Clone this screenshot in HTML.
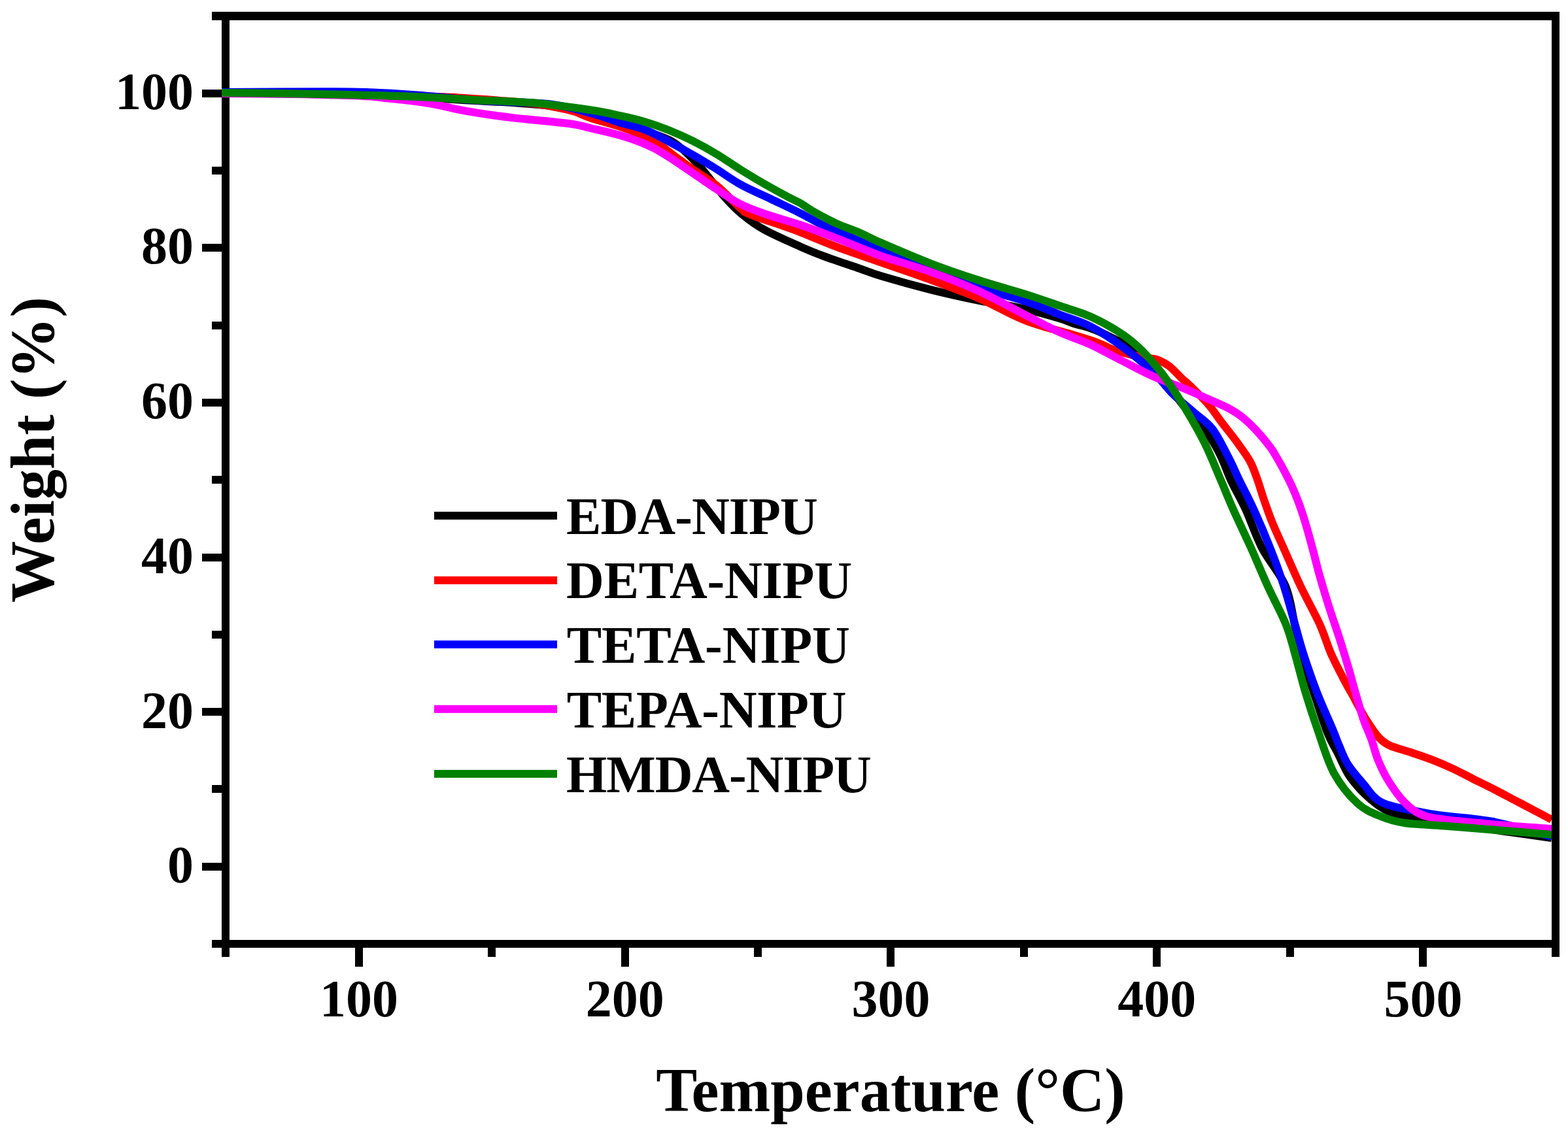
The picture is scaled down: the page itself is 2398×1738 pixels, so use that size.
<!DOCTYPE html>
<html><head><meta charset="utf-8"><title>TGA</title>
<style>html,body{margin:0;padding:0;background:#fff;}svg{display:block;}</style>
</head><body>
<svg width="2398" height="1738" viewBox="0 0 2398 1738">
<rect width="2398" height="1738" fill="#fff"/>
<g fill="#000">
<rect x="339.0" y="1450.0" width="12.0" height="14.0"/>
<rect x="543.0" y="1450.0" width="12.0" height="29.0"/>
<rect x="746.0" y="1450.0" width="12.0" height="14.0"/>
<rect x="950.0" y="1450.0" width="12.0" height="29.0"/>
<rect x="1153.0" y="1450.0" width="12.0" height="14.0"/>
<rect x="1356.0" y="1450.0" width="12.0" height="29.0"/>
<rect x="1560.0" y="1450.0" width="12.0" height="14.0"/>
<rect x="1763.0" y="1450.0" width="12.0" height="29.0"/>
<rect x="1967.0" y="1450.0" width="12.0" height="14.0"/>
<rect x="2170.0" y="1450.0" width="12.0" height="29.0"/>
<rect x="2373.0" y="1450.0" width="12.0" height="14.0"/>
<rect x="324.0" y="1438.0" width="15.0" height="12.0"/>
<rect x="309.0" y="1320.0" width="30.0" height="12.0"/>
<rect x="324.0" y="1201.0" width="15.0" height="12.0"/>
<rect x="309.0" y="1083.0" width="30.0" height="12.0"/>
<rect x="324.0" y="965.0" width="15.0" height="12.0"/>
<rect x="309.0" y="847.0" width="30.0" height="12.0"/>
<rect x="324.0" y="728.0" width="15.0" height="12.0"/>
<rect x="309.0" y="610.0" width="30.0" height="12.0"/>
<rect x="324.0" y="492.0" width="15.0" height="12.0"/>
<rect x="309.0" y="373.0" width="30.0" height="12.0"/>
<rect x="324.0" y="255.0" width="15.0" height="12.0"/>
<rect x="309.0" y="137.0" width="30.0" height="12.0"/>
<rect x="324.0" y="18.0" width="15.0" height="13.0"/>
</g>
<defs><clipPath id="pa"><rect x="339" y="18" width="2034" height="1432"/></clipPath></defs>
<g clip-path="url(#pa)" fill="none" stroke-width="12" stroke-linejoin="round" stroke-linecap="butt">
<path d="M339.0,142.0 C365.8,142.2 456.5,142.8 500.0,143.5 C543.5,144.2 566.7,144.5 600.0,146.0 C633.3,147.5 667.8,150.6 700.0,152.5 C732.2,154.4 768.0,155.9 793.0,157.7 C818.0,159.4 832.2,160.6 850.0,163.0 C867.8,165.4 883.3,168.2 900.0,172.0 C916.7,175.8 935.0,181.2 950.0,186.0 C965.0,190.8 977.8,196.3 990.0,201.0 C1002.2,205.7 1014.5,209.8 1023.0,214.0 C1031.5,218.2 1036.7,222.8 1041.0,226.0 C1045.3,229.2 1044.8,229.0 1049.0,233.0 C1053.2,237.0 1060.5,244.0 1066.0,250.0 C1071.5,256.0 1074.9,260.3 1082.0,269.0 C1089.1,277.7 1099.9,292.2 1108.7,302.0 C1117.5,311.8 1125.0,319.7 1135.0,328.0 C1145.0,336.3 1154.2,343.4 1169.0,351.6 C1183.8,359.8 1208.5,370.5 1223.7,377.2 C1238.9,383.9 1244.8,386.4 1260.0,392.0 C1275.2,397.6 1300.0,405.8 1315.0,411.0 C1330.0,416.2 1332.0,417.6 1350.0,423.0 C1368.0,428.4 1398.7,437.0 1423.0,443.1 C1447.3,449.2 1478.6,456.0 1496.0,459.6 C1513.4,463.2 1515.4,462.3 1527.6,464.6 C1539.8,466.9 1553.6,469.5 1569.0,473.2 C1584.4,476.9 1607.8,483.4 1620.0,487.0 C1632.2,490.6 1634.1,492.5 1642.0,495.0 C1649.9,497.5 1658.0,498.5 1667.5,502.0 C1677.0,505.5 1688.5,510.7 1699.0,516.0 C1709.5,521.3 1720.3,525.7 1730.8,534.0 C1741.3,542.3 1751.5,555.0 1762.0,566.0 C1772.5,577.0 1785.8,590.7 1794.0,600.0 C1802.2,609.3 1804.7,614.5 1811.0,622.0 C1817.3,629.5 1825.2,636.8 1832.0,645.0 C1838.8,653.2 1846.0,661.8 1852.0,671.0 C1858.0,680.2 1862.9,689.3 1868.0,700.0 C1873.1,710.7 1876.4,721.9 1882.6,735.2 C1888.8,748.5 1897.4,762.8 1905.3,780.0 C1913.2,797.2 1919.9,818.9 1930.0,838.4 C1940.1,857.9 1957.7,877.3 1966.0,896.8 C1974.3,916.3 1976.0,938.0 1980.0,955.2 C1984.0,972.4 1985.2,982.8 1990.0,1000.0 C1994.8,1017.2 2002.3,1038.3 2009.0,1058.4 C2015.7,1078.5 2023.8,1104.9 2030.0,1120.6 C2036.2,1136.3 2040.6,1141.8 2045.9,1152.4 C2051.2,1163.0 2056.4,1175.4 2061.7,1184.1 C2067.0,1192.8 2072.3,1198.7 2077.6,1204.8 C2082.9,1210.9 2088.2,1215.8 2093.5,1220.6 C2098.8,1225.3 2104.1,1229.7 2109.4,1233.3 C2114.7,1236.9 2119.9,1239.8 2125.2,1242.0 C2130.5,1244.2 2135.7,1245.5 2141.0,1246.8 C2146.3,1248.1 2145.8,1248.1 2157.0,1250.0 C2168.2,1251.9 2184.2,1254.4 2208.0,1258.0 C2231.8,1261.6 2272.5,1267.7 2300.0,1271.7 C2327.5,1275.7 2360.8,1280.3 2373.0,1282.0" stroke="#000000"/>
<path d="M339.0,142.0 C365.8,142.2 446.7,142.1 500.0,143.0 C553.3,143.9 625.5,146.4 659.0,147.5 C692.5,148.6 682.2,148.3 701.0,149.5 C719.8,150.7 751.8,152.8 771.6,154.4 C791.4,156.0 805.3,157.1 820.0,159.0 C834.7,160.9 850.0,164.0 860.0,166.0 C870.0,168.0 872.9,168.6 880.0,171.0 C887.1,173.4 891.0,176.4 902.7,180.3 C914.4,184.2 937.1,190.1 950.0,194.4 C962.9,198.7 970.8,201.9 980.0,206.0 C989.2,210.1 996.3,213.5 1005.0,219.0 C1013.7,224.5 1022.8,232.2 1032.0,239.0 C1041.2,245.8 1049.3,252.0 1060.0,259.5 C1070.7,267.0 1084.0,274.2 1096.0,284.0 C1108.0,293.8 1123.3,310.6 1132.0,318.0 C1140.7,325.4 1134.6,323.0 1148.4,328.6 C1162.2,334.2 1192.5,343.4 1214.6,351.7 C1236.6,360.0 1258.7,369.9 1280.7,378.2 C1302.7,386.5 1324.8,393.6 1346.8,401.3 C1368.8,409.0 1388.1,415.3 1413.0,424.4 C1437.9,433.5 1470.0,444.9 1496.0,455.9 C1522.0,466.9 1544.7,481.2 1569.0,490.6 C1593.3,500.0 1623.8,506.9 1642.0,512.5 C1660.2,518.1 1667.8,520.3 1678.5,524.3 C1689.2,528.2 1694.1,532.4 1706.0,536.2 C1717.9,540.0 1739.8,545.0 1750.0,547.2 C1760.2,549.4 1761.2,547.4 1767.5,549.5 C1773.8,551.6 1780.9,554.8 1787.6,559.8 C1794.3,564.8 1802.4,574.3 1807.6,579.2 C1812.8,584.1 1812.3,582.7 1819.0,589.2 C1825.7,595.7 1839.2,608.7 1847.6,618.4 C1856.0,628.1 1862.1,637.9 1869.5,647.6 C1876.9,657.3 1885.0,667.1 1892.0,676.8 C1899.0,686.5 1906.5,696.3 1911.8,706.0 C1917.0,715.7 1920.0,725.5 1923.5,735.2 C1927.0,744.9 1929.2,753.6 1933.0,764.4 C1936.8,775.2 1941.0,787.7 1946.0,800.0 C1951.0,812.3 1955.8,822.3 1963.0,838.4 C1970.2,854.5 1979.8,877.3 1989.0,896.8 C1998.2,916.3 2010.6,938.0 2018.4,955.2 C2026.2,972.4 2029.1,985.2 2035.6,1000.0 C2042.1,1014.8 2052.2,1033.5 2057.5,1043.8 C2062.8,1054.1 2063.7,1054.6 2067.7,1061.9 C2071.7,1069.2 2077.5,1080.3 2081.6,1087.6 C2085.7,1094.9 2087.8,1099.0 2092.3,1105.7 C2096.8,1112.4 2102.9,1122.2 2108.4,1128.0 C2113.9,1133.8 2117.1,1136.7 2125.2,1140.5 C2133.3,1144.3 2146.4,1147.2 2157.0,1150.8 C2167.6,1154.4 2178.1,1157.8 2188.7,1161.9 C2199.3,1166.0 2209.9,1170.5 2220.5,1175.4 C2231.1,1180.3 2241.6,1186.0 2252.2,1191.3 C2262.8,1196.6 2273.4,1201.7 2284.0,1207.1 C2294.6,1212.5 2305.1,1218.2 2315.7,1223.8 C2326.3,1229.4 2337.9,1235.5 2347.5,1240.5 C2357.1,1245.5 2368.8,1251.8 2373.0,1254.0" stroke="#ff0000"/>
<path d="M339.0,141.0 C365.8,140.9 463.2,140.2 500.0,140.2 C536.8,140.2 537.0,140.1 560.0,141.0 C583.0,141.9 608.7,143.3 638.0,145.5 C667.3,147.7 702.0,151.7 736.0,154.0 C770.0,156.3 814.2,156.3 842.0,159.5 C869.8,162.7 885.0,168.2 903.0,173.0 C921.0,177.8 935.5,183.5 950.0,188.0 C964.5,192.5 974.8,193.6 990.0,200.0 C1005.2,206.4 1024.3,217.4 1041.0,226.6 C1057.7,235.8 1074.8,245.7 1090.0,255.0 C1105.2,264.3 1117.5,274.0 1132.5,282.3 C1147.5,290.6 1164.8,297.7 1180.0,305.0 C1195.2,312.3 1210.4,319.4 1223.7,326.1 C1237.0,332.8 1244.8,338.2 1260.0,345.3 C1275.2,352.4 1300.0,362.7 1315.0,369.0 C1330.0,375.3 1332.0,375.6 1350.0,382.9 C1368.0,390.2 1398.7,403.6 1423.0,413.0 C1447.3,422.4 1471.7,431.4 1496.0,439.5 C1520.3,447.6 1548.3,454.5 1569.0,461.4 C1589.7,468.3 1603.6,474.8 1620.0,481.1 C1636.4,487.4 1651.7,491.2 1667.5,499.3 C1683.3,507.4 1699.2,517.9 1715.0,529.4 C1730.8,540.9 1749.2,555.9 1762.4,568.2 C1775.6,580.5 1783.5,592.6 1794.0,603.0 C1804.5,613.4 1815.7,621.9 1825.7,630.7 C1835.7,639.5 1845.1,644.5 1854.0,656.0 C1862.9,667.5 1871.9,686.5 1879.0,700.0 C1886.1,713.5 1890.0,723.7 1896.5,737.0 C1903.0,750.3 1910.0,763.1 1917.7,780.0 C1925.4,796.9 1934.8,818.9 1942.5,838.4 C1950.2,857.9 1957.3,877.3 1963.6,896.8 C1969.9,916.3 1975.5,938.0 1980.4,955.2 C1985.4,972.4 1987.8,982.8 1993.3,1000.0 C1998.8,1017.2 2006.2,1038.9 2013.7,1058.4 C2021.2,1077.9 2032.8,1103.2 2038.5,1116.8 C2044.2,1130.4 2043.9,1131.3 2047.7,1140.0 C2051.5,1148.7 2055.1,1159.5 2061.2,1169.2 C2067.3,1178.9 2075.9,1188.7 2084.5,1198.4 C2093.1,1208.1 2098.5,1220.3 2113.0,1227.6 C2127.5,1234.9 2155.6,1238.8 2171.4,1242.2 C2187.2,1245.6 2189.4,1245.5 2208.0,1248.0 C2226.6,1250.5 2255.5,1251.7 2283.0,1257.0 C2310.5,1262.3 2358.0,1276.2 2373.0,1280.0" stroke="#0000ff"/>
<path d="M339.0,143.0 C357.5,143.2 413.2,143.3 450.0,144.0 C486.8,144.7 537.0,146.2 560.0,147.2 C583.0,148.2 578.8,149.1 588.2,150.0 C597.6,150.9 607.0,151.8 616.4,152.9 C625.8,154.0 635.3,155.0 644.7,156.4 C654.1,157.8 663.5,159.4 672.9,161.3 C682.3,163.2 691.7,165.8 701.1,167.7 C710.5,169.6 719.9,171.1 729.3,172.6 C738.7,174.1 748.1,175.5 757.5,176.8 C766.9,178.1 776.3,179.3 785.7,180.4 C795.1,181.5 804.6,182.3 814.0,183.2 C823.4,184.1 831.2,184.8 842.2,186.0 C853.2,187.2 869.9,188.9 880.0,190.6 C890.1,192.3 891.0,193.2 902.7,196.0 C914.4,198.8 935.5,203.3 950.0,207.6 C964.5,211.9 977.8,216.6 990.0,222.0 C1002.2,227.4 1005.3,229.0 1023.0,240.3 C1040.7,251.6 1077.8,277.6 1096.0,289.6 C1114.2,301.6 1120.3,306.2 1132.5,312.4 C1144.7,318.6 1153.8,321.7 1169.0,327.0 C1184.2,332.3 1205.1,337.7 1223.7,344.0 C1242.3,350.3 1260.2,357.1 1280.7,365.0 C1301.2,372.9 1323.1,382.9 1346.8,391.4 C1370.5,399.9 1398.1,406.9 1423.0,415.8 C1447.9,424.7 1471.7,433.9 1496.0,445.0 C1520.3,456.1 1548.3,471.9 1569.0,482.4 C1589.7,492.9 1603.6,500.6 1620.0,508.0 C1636.4,515.4 1651.7,519.8 1667.5,527.0 C1683.3,534.2 1699.2,543.5 1715.0,551.5 C1730.8,559.5 1746.6,568.2 1762.4,575.3 C1778.2,582.4 1797.0,588.7 1809.9,594.0 C1822.8,599.3 1832.0,603.5 1840.0,607.0 C1848.0,610.5 1851.5,612.0 1858.0,615.0 C1864.5,618.0 1872.1,620.8 1879.1,624.7 C1886.1,628.6 1893.0,632.6 1900.0,638.3 C1907.0,643.9 1914.3,651.0 1921.4,658.6 C1928.5,666.2 1937.4,677.1 1942.7,684.2 C1948.0,691.3 1949.8,695.2 1953.4,701.3 C1957.0,707.4 1960.6,713.9 1964.2,720.7 C1967.8,727.5 1971.4,734.4 1975.0,742.3 C1978.6,750.2 1982.2,758.5 1985.8,768.2 C1989.4,777.9 1993.0,788.8 1996.6,800.7 C2000.2,812.7 2003.9,826.4 2007.5,839.9 C2011.1,853.4 2014.2,866.6 2018.4,881.6 C2022.7,896.6 2028.1,914.4 2033.0,930.0 C2037.9,945.6 2043.2,960.0 2048.0,975.0 C2052.8,990.0 2057.6,1005.8 2061.8,1020.0 C2066.0,1034.2 2069.1,1046.7 2073.0,1060.0 C2076.9,1073.3 2080.9,1088.0 2085.0,1100.0 C2089.1,1112.0 2093.7,1121.1 2097.5,1131.7 C2101.3,1142.3 2103.4,1152.9 2107.8,1163.5 C2112.2,1174.1 2117.1,1184.6 2123.7,1195.2 C2130.3,1205.8 2139.4,1218.6 2147.5,1227.0 C2155.6,1235.4 2161.9,1241.0 2172.0,1245.5 C2182.1,1250.0 2189.5,1251.1 2208.0,1253.7 C2226.5,1256.3 2255.5,1258.8 2283.0,1261.2 C2310.5,1263.6 2358.0,1266.9 2373.0,1268.0" stroke="#ff00ff"/>
<path d="M339.0,142.0 C349.2,142.1 373.2,142.1 400.0,142.5 C426.8,142.9 475.0,143.7 500.0,144.2 C525.0,144.7 527.0,144.8 550.0,145.4 C573.0,146.0 608.8,146.8 638.2,148.0 C667.6,149.2 697.0,151.3 726.4,152.9 C755.8,154.5 785.2,154.7 814.6,157.3 C844.0,159.9 880.1,165.0 902.7,168.3 C925.3,171.7 936.0,174.4 950.0,177.4 C964.0,180.4 974.3,182.8 986.5,186.5 C998.7,190.2 1010.8,194.4 1023.0,199.3 C1035.2,204.2 1047.3,209.6 1059.5,215.7 C1071.7,221.8 1083.8,228.5 1096.0,235.8 C1108.2,243.1 1120.3,251.9 1132.5,259.5 C1144.7,267.1 1156.8,274.4 1169.0,281.4 C1181.2,288.4 1196.4,296.6 1205.5,301.5 C1214.6,306.4 1217.6,307.1 1223.7,310.6 C1229.8,314.1 1232.9,317.2 1242.0,322.4 C1251.1,327.6 1266.3,336.0 1278.5,341.6 C1290.7,347.2 1303.1,351.0 1315.0,356.2 C1326.9,361.4 1332.0,364.8 1350.0,372.6 C1368.0,380.4 1398.7,393.7 1423.0,403.0 C1447.3,412.3 1471.7,420.6 1496.0,428.5 C1520.3,436.4 1548.3,443.9 1569.0,450.4 C1589.7,456.9 1603.6,462.0 1620.0,467.7 C1636.4,473.4 1651.7,477.2 1667.5,484.3 C1683.3,491.4 1701.8,501.7 1715.0,510.4 C1728.2,519.1 1736.1,526.1 1746.6,536.5 C1757.1,546.9 1767.7,558.9 1778.2,572.9 C1788.8,586.9 1799.3,603.1 1809.9,620.4 C1820.5,637.7 1832.2,657.7 1841.8,676.8 C1851.4,695.9 1859.9,718.0 1867.3,735.2 C1874.7,752.4 1878.6,762.8 1886.3,780.0 C1894.0,797.2 1904.5,818.9 1913.3,838.4 C1922.0,857.9 1929.9,877.3 1938.8,896.8 C1947.7,916.3 1959.7,938.0 1966.6,955.2 C1973.5,972.4 1975.5,982.8 1980.4,1000.0 C1985.3,1017.2 1990.4,1038.9 1996.2,1058.4 C2002.0,1077.9 2007.9,1096.1 2015.2,1116.8 C2022.5,1137.5 2029.8,1163.9 2040.0,1182.7 C2050.2,1201.5 2064.3,1218.3 2076.5,1229.4 C2088.7,1240.5 2101.1,1244.6 2113.0,1249.5 C2124.9,1254.4 2132.2,1256.7 2148.0,1259.0 C2163.8,1261.3 2185.5,1261.7 2208.0,1263.4 C2230.5,1265.1 2255.5,1267.1 2283.0,1269.4 C2310.5,1271.7 2358.0,1275.7 2373.0,1277.0" stroke="#008000"/>
</g>
<g fill="#000">
<rect x="339.0" y="18.0" width="2046.0" height="13.0"/>
<rect x="339.0" y="1438.0" width="2046.0" height="12.0"/>
<rect x="339.0" y="18.0" width="12.0" height="1432.0"/>
<rect x="2373.0" y="18.0" width="12.0" height="1432.0"/>
</g>
<defs><clipPath id="la"><rect x="339" y="18" width="12" height="1432"/></clipPath></defs>
<g clip-path="url(#la)" fill="none" stroke-width="12">
<path d="M339.0,142.0 C365.8,142.2 456.5,142.8 500.0,143.5 C543.5,144.2 583.3,145.6 600.0,146.0" stroke="#000000"/>
<path d="M339.0,142.0 C365.8,142.2 446.7,142.1 500.0,143.0 C553.3,143.9 632.5,146.8 659.0,147.5" stroke="#ff0000"/>
<path d="M339.0,141.0 C365.8,140.9 463.2,140.2 500.0,140.2 C536.8,140.2 550.0,140.9 560.0,141.0" stroke="#0000ff"/>
<path d="M339.0,143.0 C357.5,143.2 413.2,143.3 450.0,144.0 C486.8,144.7 541.7,146.7 560.0,147.2" stroke="#ff00ff"/>
<path d="M339.0,142.0 C349.2,142.1 373.2,142.1 400.0,142.5 C426.8,142.9 483.3,143.9 500.0,144.2" stroke="#008000"/>
</g>
<rect x="664" y="782.9" width="188" height="12" fill="#000000"/>
<rect x="664" y="881.8" width="188" height="12" fill="#ff0000"/>
<rect x="664" y="979.9" width="188" height="12" fill="#0000ff"/>
<rect x="664" y="1078.8" width="188" height="12" fill="#ff00ff"/>
<rect x="664" y="1177.9" width="188" height="12" fill="#008000"/>
<text font-family="'Liberation Serif','Times New Roman',serif" font-weight="bold" font-size="80.00" text-anchor="end" x="296.00" y="1350.21">0</text>
<text font-family="'Liberation Serif','Times New Roman',serif" font-weight="bold" font-size="80.00" text-anchor="end" x="296.00" y="1113.63">20</text>
<text font-family="'Liberation Serif','Times New Roman',serif" font-weight="bold" font-size="80.00" text-anchor="end" x="296.00" y="877.05">40</text>
<text font-family="'Liberation Serif','Times New Roman',serif" font-weight="bold" font-size="80.00" text-anchor="end" x="296.00" y="640.47">60</text>
<text font-family="'Liberation Serif','Times New Roman',serif" font-weight="bold" font-size="80.00" text-anchor="end" x="296.00" y="402.89">80</text>
<text font-family="'Liberation Serif','Times New Roman',serif" font-weight="bold" font-size="80.00" text-anchor="end" x="296.00" y="167.31">100</text>
<text font-family="'Liberation Serif','Times New Roman',serif" font-weight="bold" font-size="80.00" text-anchor="middle" x="549.00" y="1555.00">100</text>
<text font-family="'Liberation Serif','Times New Roman',serif" font-weight="bold" font-size="80.00" text-anchor="middle" x="955.75" y="1555.00">200</text>
<text font-family="'Liberation Serif','Times New Roman',serif" font-weight="bold" font-size="80.00" text-anchor="middle" x="1362.50" y="1555.00">300</text>
<text font-family="'Liberation Serif','Times New Roman',serif" font-weight="bold" font-size="80.00" text-anchor="middle" x="1769.25" y="1555.00">400</text>
<text font-family="'Liberation Serif','Times New Roman',serif" font-weight="bold" font-size="80.00" text-anchor="middle" x="2176.50" y="1555.00">500</text>
<text font-family="'Liberation Serif','Times New Roman',serif" font-weight="bold" font-size="94.50" text-anchor="middle" x="1362.00" y="1700.00">Temperature (&#176;C)</text>
<text font-family="'Liberation Serif','Times New Roman',serif" font-weight="bold" font-size="94.50" text-anchor="middle" letter-spacing="-0.20" x="0.80" y="0.00" transform="translate(82,689) rotate(-90)">Weight (%)</text>
<text font-family="'Liberation Serif','Times New Roman',serif" font-weight="bold" font-size="80.00" text-anchor="start" letter-spacing="-0.93" x="866.10" y="817.00">EDA-NIPU</text>
<text font-family="'Liberation Serif','Times New Roman',serif" font-weight="bold" font-size="80.00" text-anchor="start" letter-spacing="-0.21" x="866.10" y="914.70">DETA-NIPU</text>
<text font-family="'Liberation Serif','Times New Roman',serif" font-weight="bold" font-size="80.00" text-anchor="start" letter-spacing="-0.12" x="866.70" y="1013.55">TETA-NIPU</text>
<text font-family="'Liberation Serif','Times New Roman',serif" font-weight="bold" font-size="80.00" text-anchor="start" letter-spacing="-0.22" x="866.70" y="1113.30">TEPA-NIPU</text>
<text font-family="'Liberation Serif','Times New Roman',serif" font-weight="bold" font-size="80.00" text-anchor="start" letter-spacing="-1.09" x="866.10" y="1211.50">HMDA-NIPU</text>
</svg>
</body></html>
